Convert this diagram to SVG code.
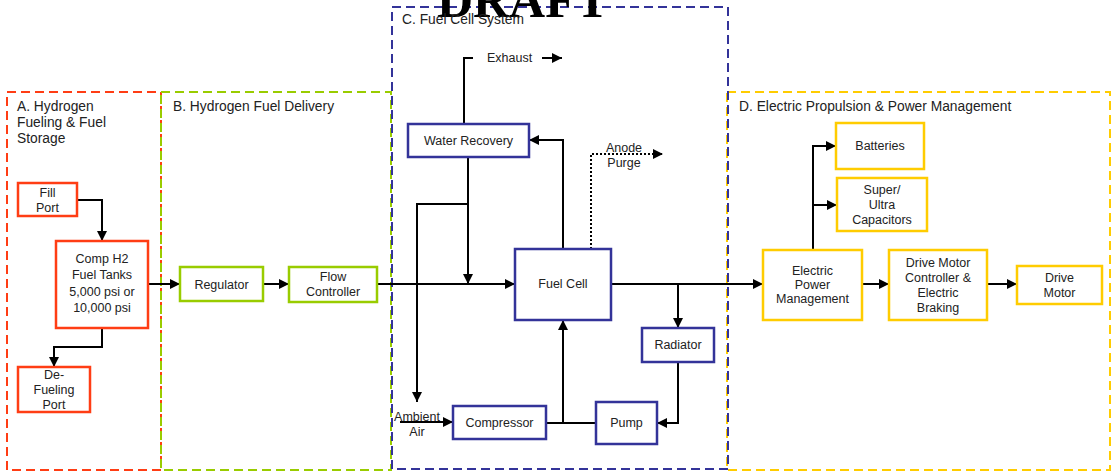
<svg xmlns="http://www.w3.org/2000/svg" width="1111" height="472" viewBox="0 0 1111 472">
<defs>
<marker id="ah" markerUnits="userSpaceOnUse" markerWidth="10" markerHeight="10" refX="10" refY="5" orient="auto">
<path d="M0,0 L10,5 L0,10 z" fill="#000"/>
</marker>
<style>
text{font-family:"Liberation Sans",Arial,sans-serif;font-size:12.5px;fill:#222}
.rl{font-size:13.8px}
.c{text-anchor:middle}
.reg{fill:none;stroke-width:2;stroke-dasharray:9,5}
.n rect{fill:#fff;stroke-width:2.5}
.red rect{stroke:#FF3D14}
.grn rect{stroke:#99CC00}
.blu rect{stroke:#333399}
.yel rect{stroke:#FFCC00}
.ln{fill:none;stroke:#000;stroke-width:2}
.ar{marker-end:url(#ah)}
.dot{stroke-dasharray:2,2}
</style>
</defs>
<rect width="1111" height="472" fill="#fff"/>
<g id="regions">
<rect class="reg" x="7" y="92" width="154" height="378" stroke="#FF3D14"/>
<rect class="reg" x="161" y="92" width="230" height="378" stroke="#99CC00"/>
<rect class="reg" x="727" y="92" width="383" height="378" stroke="#FFCC00"/>
<rect class="reg" x="392" y="7" width="336" height="462" stroke="#333399"/>
</g>
<text x="523" y="17" class="c" style="font-family:'Liberation Serif','Times New Roman',serif;font-size:50px;font-weight:bold;fill:#000">DRAFT</text>
<g id="region-labels">
<text class="rl" x="17" y="111">A. Hydrogen</text>
<text class="rl" x="17" y="127">Fueling &amp; Fuel</text>
<text class="rl" x="17" y="143">Storage</text>
<text class="rl" x="173" y="111">B. Hydrogen Fuel Delivery</text>
<text class="rl" x="402" y="24">C. Fuel Cell System</text>
<text class="rl" x="739" y="111">D. Electric Propulsion &amp; Power Management</text>
</g>
<g id="connectors">
<path class="ln ar" d="M77,200 H102 V241"/>
<path class="ln ar" d="M102,328 V347 H54 V367"/>
<path class="ln ar" d="M148,284 H180"/>
<path class="ln ar" d="M263,284 H289"/>
<path class="ln ar" d="M377,284 H515"/>
<path class="ln" d="M464,124 V58 H473"/>
<path class="ln ar" d="M542,58 H562"/>
<path class="ln ar" d="M563,249 V140 H529"/>
<path class="ln ar dot" d="M591,249 V154 H663"/>
<path class="ln ar" d="M468,157 V284"/>
<path class="ln ar" d="M468,204 H417 V402"/>
<path class="ln ar" d="M400,422 H453"/>
<path class="ln" d="M546,423 H596"/>
<path class="ln ar" d="M563,423 V320"/>
<path class="ln ar" d="M611,284 H763"/>
<path class="ln ar" d="M678,284 V328"/>
<path class="ln ar" d="M678,362 V423 H657"/>
<path class="ln ar" d="M862,284 H889"/>
<path class="ln ar" d="M987,284 H1017"/>
<path class="ln ar" d="M813,250 V146 H836"/>
<path class="ln ar" d="M813,205 H837"/>
</g>
<g id="fill-port" class="n red"><rect x="18" y="183" width="59" height="33"/><text x="47.5" y="197" class="c">Fill</text><text x="47.5" y="212" class="c">Port</text></g>
<g id="fuel-tanks" class="n red"><rect x="56" y="241" width="92" height="87"/><text x="102" y="263" class="c">Comp H2</text><text x="102" y="279" class="c">Fuel Tanks</text><text x="102" y="296" class="c">5,000 psi or</text><text x="102" y="312" class="c">10,000 psi</text></g>
<g id="defueling-port" class="n red"><rect x="18" y="367" width="72" height="45"/><text x="54" y="379" class="c">De-</text><text x="54" y="394" class="c">Fueling</text><text x="54" y="409" class="c">Port</text></g>
<g id="regulator" class="n grn"><rect x="180" y="267" width="83" height="34"/><text x="221.5" y="289" class="c">Regulator</text></g>
<g id="flow-controller" class="n grn"><rect x="289" y="267" width="88" height="35"/><text x="333" y="281" class="c">Flow</text><text x="333" y="296" class="c">Controller</text></g>
<g id="water-recovery" class="n blu"><rect x="408" y="124" width="121" height="33"/><text x="468.5" y="145" class="c">Water Recovery</text></g>
<g id="fuel-cell" class="n blu"><rect x="515" y="249" width="96" height="71"/><text x="563" y="288" class="c">Fuel Cell</text></g>
<g id="radiator" class="n blu"><rect x="642" y="328" width="72" height="34"/><text x="678" y="349" class="c">Radiator</text></g>
<g id="compressor" class="n blu"><rect x="453" y="406" width="93" height="33"/><text x="499.5" y="427" class="c">Compressor</text></g>
<g id="pump" class="n blu"><rect x="596" y="402" width="61" height="42"/><text x="626.5" y="427" class="c">Pump</text></g>
<g id="batteries" class="n yel"><rect x="836" y="123" width="88" height="46"/><text x="880" y="150" class="c">Batteries</text></g>
<g id="capacitors" class="n yel"><rect x="837" y="178" width="90" height="53"/><text x="882" y="194" class="c">Super/</text><text x="882" y="209" class="c">Ultra</text><text x="882" y="224" class="c">Capacitors</text></g>
<g id="epm" class="n yel"><rect x="763" y="250" width="99" height="70"/><text x="812.5" y="275" class="c">Electric</text><text x="812.5" y="289" class="c">Power</text><text x="812.5" y="303" class="c">Management</text></g>
<g id="dmc" class="n yel"><rect x="889" y="250" width="98" height="70"/><text x="938" y="267" class="c">Drive Motor</text><text x="938" y="282" class="c">Controller &amp;</text><text x="938" y="297" class="c">Electric</text><text x="938" y="312" class="c">Braking</text></g>
<g id="drive-motor" class="n yel"><rect x="1017" y="266" width="85" height="38"/><text x="1059.5" y="282" class="c">Drive</text><text x="1059.5" y="297" class="c">Motor</text></g>
<g id="labels">
<text x="487" y="62">Exhaust</text>
<text x="624" y="152" class="c">Anode</text>
<text x="624" y="167" class="c">Purge</text>
<text x="417" y="421" class="c">Ambient</text>
<text x="417" y="436" class="c">Air</text>
</g>
</svg>
